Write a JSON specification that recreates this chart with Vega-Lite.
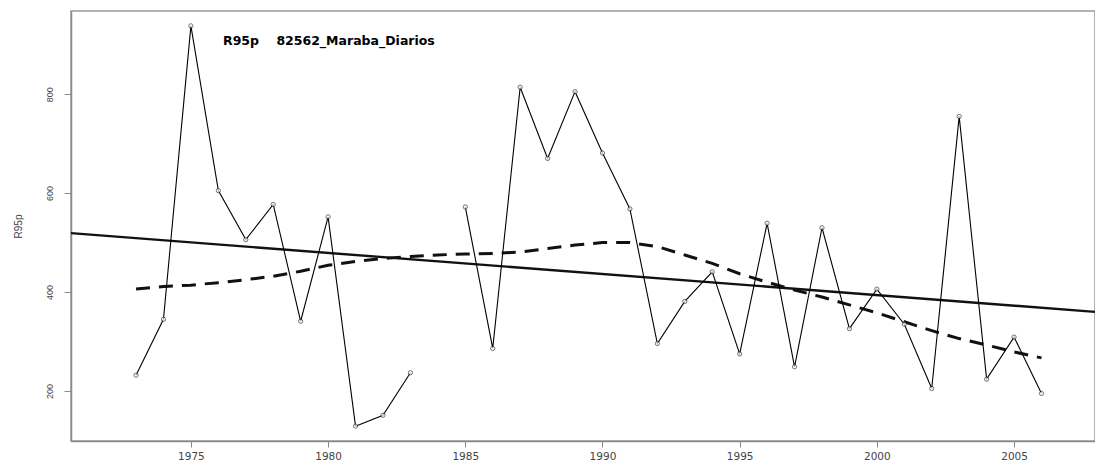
{
  "$schema": "https://vega.github.io/schema/vega-lite/v6.json",
  "autosize": "none",
  "width": 1024,
  "height": 430,
  "padding": {"left": 71, "top": 11, "right": 0, "bottom": 26},
  "background": "white",
  "config": {
    "view": {"stroke": "#9a9a9a", "strokeWidth": 1.5},
    "font": "Liberation Sans"
  },
  "datasets": {
    "obs": [
      {"year": 1973, "R95p": 232},
      {"year": 1974, "R95p": 345},
      {"year": 1975, "R95p": 938},
      {"year": 1976, "R95p": 605},
      {"year": 1977, "R95p": 506},
      {"year": 1978, "R95p": 577},
      {"year": 1979, "R95p": 341},
      {"year": 1980, "R95p": 552},
      {"year": 1981, "R95p": 129},
      {"year": 1982, "R95p": 151},
      {"year": 1983, "R95p": 237},
      {"year": 1984, "R95p": null},
      {"year": 1985, "R95p": 572},
      {"year": 1986, "R95p": 286},
      {"year": 1987, "R95p": 814},
      {"year": 1988, "R95p": 670},
      {"year": 1989, "R95p": 805},
      {"year": 1990, "R95p": 681},
      {"year": 1991, "R95p": 568},
      {"year": 1992, "R95p": 296},
      {"year": 1993, "R95p": 381},
      {"year": 1994, "R95p": 441},
      {"year": 1995, "R95p": 275},
      {"year": 1996, "R95p": 539},
      {"year": 1997, "R95p": 249},
      {"year": 1998, "R95p": 530},
      {"year": 1999, "R95p": 326},
      {"year": 2000, "R95p": 406},
      {"year": 2001, "R95p": 335},
      {"year": 2002, "R95p": 205},
      {"year": 2003, "R95p": 755},
      {"year": 2004, "R95p": 224},
      {"year": 2005, "R95p": 309},
      {"year": 2006, "R95p": 195}
    ],
    "smooth": [
      {"year": 1973, "value": 406},
      {"year": 1974, "value": 411},
      {"year": 1975, "value": 414},
      {"year": 1976, "value": 419},
      {"year": 1977, "value": 425},
      {"year": 1978, "value": 432},
      {"year": 1979, "value": 442},
      {"year": 1980, "value": 454},
      {"year": 1981, "value": 462},
      {"year": 1982, "value": 468},
      {"year": 1983, "value": 472},
      {"year": 1984, "value": 475},
      {"year": 1985, "value": 477},
      {"year": 1986, "value": 478},
      {"year": 1987, "value": 481},
      {"year": 1988, "value": 488},
      {"year": 1989, "value": 495},
      {"year": 1990, "value": 500},
      {"year": 1991, "value": 500},
      {"year": 1992, "value": 492},
      {"year": 1993, "value": 475},
      {"year": 1994, "value": 458},
      {"year": 1995, "value": 437},
      {"year": 1996, "value": 420},
      {"year": 1997, "value": 404},
      {"year": 1998, "value": 390},
      {"year": 1999, "value": 374},
      {"year": 2000, "value": 358},
      {"year": 2001, "value": 340},
      {"year": 2002, "value": 322},
      {"year": 2003, "value": 306},
      {"year": 2004, "value": 293},
      {"year": 2005, "value": 279},
      {"year": 2006, "value": 267}
    ],
    "trend": [
      {"year": 1970.63, "value": 519},
      {"year": 2007.95, "value": 360}
    ],
    "label": [
      {"year": 1976.17, "value": 908, "text": "R95p\u00a0\u00a0\u00a0\u00a082562_Maraba_Diarios"}
    ]
  },
  "encoding": {
    "x": {
      "field": "year",
      "type": "quantitative",
      "scale": {"domain": [1970.63, 2007.95], "nice": false, "zero": false},
      "axis": {
        "title": null,
        "values": [1975, 1980, 1985, 1990, 1995, 2000, 2005],
        "format": "d",
        "grid": false,
        "domainColor": "#8a8a8a",
        "domainWidth": 1.5,
        "tickColor": "#8a8a8a",
        "tickSize": 6,
        "labelColor": "#444",
        "labelFont": "DejaVu Sans",
        "labelFontSize": 10.5,
        "labelPadding": 4
      }
    }
  },
  "layer": [
    {
      "data": {"name": "trend"},
      "mark": {"type": "line", "color": "#111", "strokeWidth": 2.4},
      "encoding": {
        "y": {
          "field": "value",
          "type": "quantitative",
          "scale": {"domain": [99, 968], "nice": false, "zero": false},
          "axis": {
            "title": "R95p",
            "titleFontWeight": "normal",
            "titleFontSize": 10,
            "titleColor": "#444",
            "titlePadding": 22,
            "values": [200, 400, 600, 800],
            "grid": false,
            "domainColor": "#8a8a8a",
            "domainWidth": 1.5,
            "tickColor": "#8a8a8a",
            "tickSize": 7,
            "labelColor": "#444",
            "labelFontSize": 9,
            "labelAngle": -90,
            "labelAlign": "center",
            "labelBaseline": "bottom",
            "labelPadding": 10
          }
        }
      }
    },
    {
      "data": {"name": "smooth"},
      "mark": {"type": "line", "color": "#111", "strokeWidth": 3, "strokeDash": [14, 9]},
      "encoding": {"y": {"field": "value", "type": "quantitative"}}
    },
    {
      "data": {"name": "obs"},
      "mark": {"type": "line", "color": "#000", "strokeWidth": 1.1, "invalid": "break-paths-filter-domains"},
      "encoding": {"y": {"field": "R95p", "type": "quantitative"}}
    },
    {
      "data": {"name": "obs"},
      "mark": {"type": "point", "shape": "circle", "filled": true, "fill": "white", "stroke": "#222", "strokeWidth": 0.9, "size": 18},
      "encoding": {"y": {"field": "R95p", "type": "quantitative"}}
    },
    {
      "data": {"name": "label"},
      "mark": {"type": "text", "align": "left", "baseline": "middle", "font": "DejaVu Sans", "fontWeight": "bold", "fontSize": 12.5, "color": "#000"},
      "encoding": {
        "y": {"field": "value", "type": "quantitative"},
        "text": {"field": "text"}
      }
    }
  ],
  "resolve": {"scale": {"y": "shared"}}
}
